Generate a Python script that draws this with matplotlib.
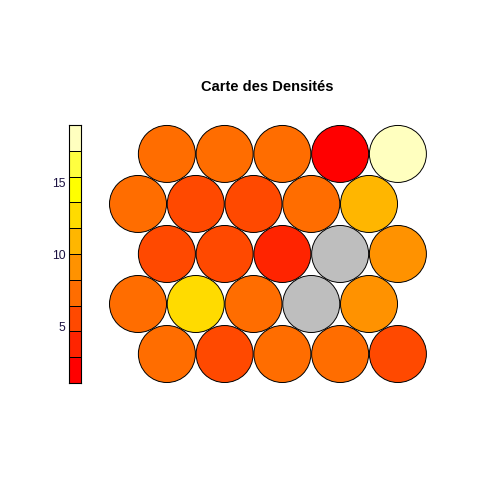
import numpy as np
from matplotlib import pyplot as plt
from matplotlib.collections import PatchCollection
from matplotlib.colors import BoundaryNorm, ListedColormap
from matplotlib.patches import Circle

plt.rcParams['font.family'] = ['Liberation Sans', 'DejaVu Sans']

row1 = [7, 5.5, 7, 7, 5.5]
row2 = [7, 13, 7, np.nan, 9]
row3 = [5.5, 5.5, 4, np.nan, 9]
row4 = [7, 5.5, 5.5, 7, 11]
row5 = [7, 7, 7, 2, 18]
rows = [row1, row2, row3, row4, row5]

heat_colors = ['#FF0000', '#FF2400', '#FF4900', '#FF6D00', '#FF9200',
               '#FFB600', '#FFDB00', '#FFFF00', '#FFFF40', '#FFFFBF']
scale_ticks = [5, 10, 15]
scale_min, scale_max = 1.1, 19

bounds = np.linspace(scale_min, scale_max, len(heat_colors) + 1)
cmap = ListedColormap(heat_colors)
cmap.set_bad('#BEBEBE')
norm = BoundaryNorm(bounds, cmap.N)

fig = plt.figure(figsize=(4.8, 4.8), dpi=100)

# Hexagonal map
ax = fig.add_axes([100 / 480, 90 / 480, 340 / 480, 270 / 480])
ax.set_xlim(0.342, 6.229)
ax.set_ylim(0.377, 5.052)
ax.axis('off')

circles, values = [], []
for i, row in enumerate(rows):
    for j, val in enumerate(row):
        # even rows are shifted half a cell to the right
        circles.append(Circle((j + 1 + (0.5 if i % 2 == 0 else 0), 1 + i * np.sqrt(3) / 2), 0.4935))
        values.append(val)

pc = PatchCollection(circles, cmap=cmap, norm=norm, edgecolor='black', linewidth=0.7)
pc.set_array(np.ma.masked_invalid(values))
ax.add_collection(pc)

fig.text(267 / 480, 1 - 87 / 480, 'Carte des Densités', ha='center', va='center',
         fontsize=10.5, fontweight='bold', color='black')

# Colour scale on the left
cax = fig.add_axes([69 / 480, 97 / 480, 12 / 480, 258 / 480])
cax.pcolormesh([0, 1], bounds, np.arange(len(heat_colors)).reshape(-1, 1),
               cmap=cmap, vmin=-0.5, vmax=len(heat_colors) - 0.5,
               edgecolors='black', linewidth=0.7)
cax.set_xticks([])
cax.set_yticks(scale_ticks)
cax.tick_params(axis='y', length=0, pad=2.5, labelsize=8.8, labelcolor='#1a1040')
cax.set_ylim(scale_min, scale_max)
for s in cax.spines.values():
    s.set_linewidth(0.8)

fig.savefig('out.png', dpi=100)
